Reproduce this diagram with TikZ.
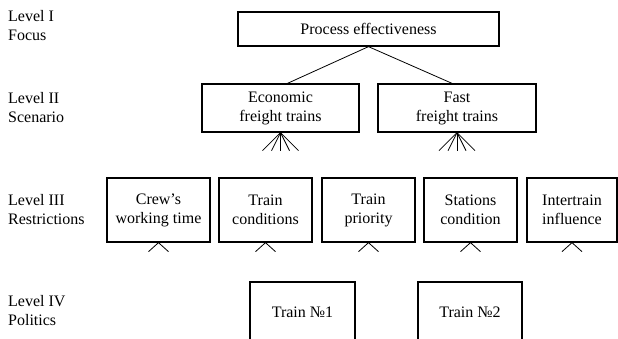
\documentclass[tikz,border=0pt]{standalone}
\usepackage{fontspec}
\setmainfont{Liberation Serif}
\usepackage{tikz}

\begin{document}
\begin{tikzpicture}
[x=1pt,y=-1pt
,font=\fontsize{16}{19}\selectfont
,lvl/.style={anchor=west,align=left,inner sep=0pt}
,bx/.style={draw,line width=1.3pt,align=center,inner sep=0pt}
,ln/.style={draw=black,line width=0.8pt}
]
\useasboundingbox (0,0) rectangle (618,339);
\clip (0,0) rectangle (618,339);
% level labels
\node[lvl] (l1) at (8,26) {Level I\\Focus};
\node[lvl] (l2) at (8,108) {Level II\\Scenario};
\node[lvl] (l3) at (8,210) {Level III\\Restrictions};
\node[lvl] (l4) at (8,311) {Level IV\\Politics};
% boxes
\node[bx,minimum width=261pt,minimum height=34pt] (proc) at (368.5,29) {Process effectiveness};
\node[bx,minimum width=157pt,minimum height=48pt] (eco) at (280.5,108) {Economic\\freight trains};
\node[bx,minimum width=158pt,minimum height=48pt] (fast) at (457,108) {Fast\\freight trains};
\node[bx,minimum width=103pt,minimum height=64pt] (crew) at (158.5,210) {Crew's\\working time};
\node[bx,minimum width=93pt,minimum height=64pt] (cond) at (265.5,210) {Train\\conditions};
\node[bx,minimum width=93pt,minimum height=64pt] (prio) at (368.5,210) {Train\\priority};
\node[bx,minimum width=93pt,minimum height=64pt] (stat) at (470.5,210) {Stations\\condition};
\node[bx,minimum width=90pt,minimum height=64pt] (infl) at (572,210) {Intertrain\\influence};
\node[bx,minimum width=105pt,minimum height=60pt] (tr1) at (302.5,312) {Train №1};
\node[bx,minimum width=104pt,minimum height=60pt] (tr2) at (470,312) {Train №2};
% links
\draw[ln] (proc.south) -- ([xshift=7pt]eco.north);
\draw[ln] (proc.south) -- ([xshift=-5pt]fast.north);
\foreach \d in {-18,-9,0,9,18} {
  \draw[ln] (eco.south) -- ++(\d,18);
  \draw[ln] (fast.south) -- ++(\d,18);
}
\foreach \n in {crew,cond,prio,stat,infl}
  \draw[ln] ([xshift=-10pt,yshift=-9pt]\n.south) -- (\n.south) -- ([xshift=10pt,yshift=-9pt]\n.south);
\end{tikzpicture}
\end{document}
